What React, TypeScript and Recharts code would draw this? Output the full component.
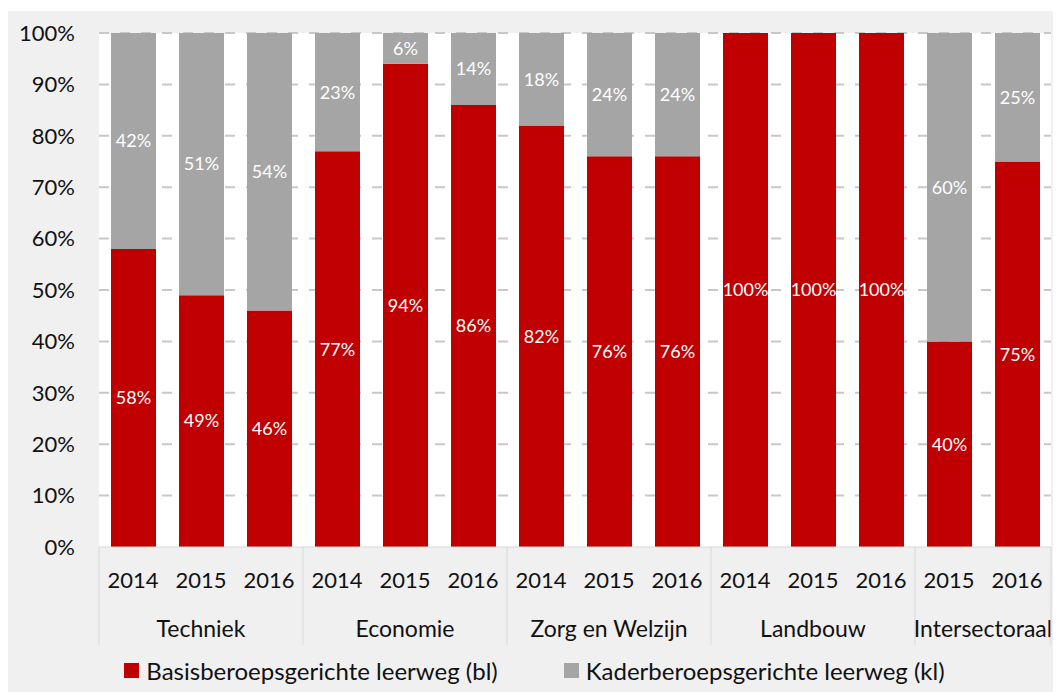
import { BarChart, Bar, XAxis, YAxis, CartesianGrid, Legend, LabelList } from 'recharts'

const years = ['2014', '2015', '2016', '2014', '2015', '2016', '2014', '2015', '2016', '2014', '2015', '2016', '2015', '2016']
const sectors = [
  'Techniek', 'Techniek', 'Techniek',
  'Economie', 'Economie', 'Economie',
  'Zorg en Welzijn', 'Zorg en Welzijn', 'Zorg en Welzijn',
  'Landbouw', 'Landbouw', 'Landbouw',
  'Intersectoraal', 'Intersectoraal',
]
const basis = [58, 49, 46, 77, 94, 86, 82, 76, 76, 100, 100, 100, 40, 75]
const kader = [42, 51, 54, 23, 6, 14, 18, 24, 24, 0, 0, 0, 60, 25]
const yTicks = [0, 10, 20, 30, 40, 50, 60, 70, 80, 90, 100]

const BL_NAME = 'Basisberoepsgerichte leerweg (bl)'
const KL_NAME = 'Kaderberoepsgerichte leerweg (kl)'
const RED = '#C00000'
const GREY = '#A5A5A5'

const W = 1053
const H = 681
const MARGIN = { top: 22, right: 10, left: 0, bottom: 35 }
const Y_W = 91
const YEAR_H = 50
const BAND = (W - MARGIN.left - MARGIN.right - Y_W) / years.length

const data = years.map((y, i) => ({ year: y, sector: sectors[i], bl: basis[i], kl: kader[i] }))

const pct = (v: number) => (v > 0 ? `${v}%` : '')

// second axis row: sector name centered under its years + separator lines
function SectorTick(props: any) {
  const { x, y, index } = props
  const s = sectors[index]
  const first = index === 0 || sectors[index - 1] !== s
  const last = index === sectors.length - 1
  const count = sectors.filter(v => v === s).length
  const top = y - YEAR_H
  const bottom = y + 48
  return (
    <g>
      {first && <line x1={x - BAND / 2} x2={x - BAND / 2} y1={top} y2={bottom} stroke="#d9d9d9" />}
      {last && <line x1={x + BAND / 2} x2={x + BAND / 2} y1={top} y2={bottom} stroke="#d9d9d9" />}
      {first && (
        <text x={x + ((count - 1) / 2) * BAND} y={y + 31} textAnchor="middle" dominantBaseline="central" fontSize={23} fill="#111">
          {s}
        </text>
      )}
    </g>
  )
}

function LegendContent() {
  const items = [
    { name: BL_NAME, color: RED },
    { name: KL_NAME, color: GREY },
  ]
  return (
    <div style={{ display: 'flex', justifyContent: 'center', gap: 66, fontSize: 24, color: '#111' }}>
      {items.map(it => (
        <div key={it.name} style={{ display: 'flex', alignItems: 'center' }}>
          <span style={{ width: 15, height: 15, background: it.color, marginRight: 7, display: 'inline-block' }} />
          <span>{it.name}</span>
        </div>
      ))}
    </div>
  )
}

export default function App() {
  return (
    <div style={{ marginTop: 3, width: W, height: H, background: '#F0F0F0', fontFamily: 'Lato, sans-serif' }}>
      <BarChart width={W} height={H} data={data} margin={MARGIN} barSize={45}>
        <CartesianGrid
          vertical={false}
          horizontalValues={yTicks.slice(1)}
          stroke="#c8c8c8"
          strokeWidth={2}
          strokeDasharray="10 11"
          fill="#ffffff"
        />
        <XAxis
          dataKey="year"
          interval={0}
          height={YEAR_H}
          tickLine={false}
          tickSize={0}
          tickMargin={25}
          axisLine={{ stroke: '#d9d9d9' }}
          tick={{ fontSize: 22, fill: '#111' }}
        />
        <XAxis
          xAxisId="sector"
          dataKey="sector"
          interval={0}
          allowDuplicatedCategory
          height={60}
          tickLine={false}
          tickSize={0}
          tickMargin={0}
          axisLine={false}
          tick={<SectorTick />}
        />
        <YAxis
          domain={[0, 100]}
          ticks={yTicks}
          width={Y_W}
          tickFormatter={v => `${v}%`}
          axisLine={false}
          tickLine={false}
          tickSize={0}
          tickMargin={24}
          tick={{ fontSize: 22, fill: '#111' }}
        />
        <Legend
          verticalAlign="middle"
          align="center"
          content={<LegendContent />}
          wrapperStyle={{ top: 645, left: 0, width: W }}
        />
        <Bar dataKey="bl" name={BL_NAME} stackId="a" fill={RED} isAnimationActive={false}>
          <LabelList dataKey="bl" position="center" formatter={pct} fill="#fff" fontSize={18} />
        </Bar>
        <Bar dataKey="kl" name={KL_NAME} stackId="a" fill={GREY} isAnimationActive={false}>
          <LabelList dataKey="kl" position="center" formatter={pct} fill="#fff" fontSize={18} />
        </Bar>
      </BarChart>
    </div>
  )
}
